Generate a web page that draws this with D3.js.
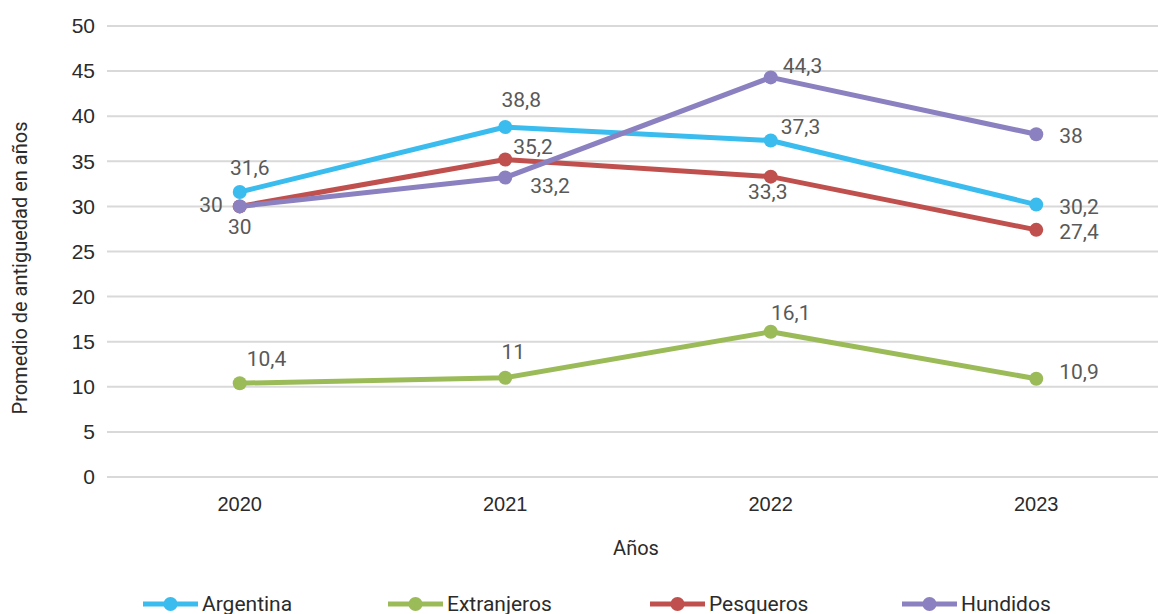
<!DOCTYPE html>
<html>
<head>
<meta charset="utf-8">
<script src="https://cdn.jsdelivr.net/npm/d3@7"></script>
<style>
  body { margin: 0; background: #fff; }
  svg { display: block; font-family: Roboto, "Noto Sans", sans-serif; }
</style>
</head>
<body>
<div id="chart"></div>
<script>
// data
var years = ['2020', '2021', '2022', '2023'];
var seriesNames = ['Argentina', 'Extranjeros', 'Pesqueros', 'Hundidos'];
var argentina = [31.6, 38.8, 37.3, 30.2];
var extranjeros = [10.4, 11, 16.1, 10.9];
var pesqueros = [30, 35.2, 33.3, 27.4];
var hundidos = [30, 33.2, 44.3, 38];
var yTicks = [0, 5, 10, 15, 20, 25, 30, 35, 40, 45, 50];

var colors = ['#3bbcee', '#9bbb59', '#c0504d', '#8b80c0'];

// label placement for each point: [dx, dy, anchor]
var labelOffsets = [
  [[10, -24, 'middle'], [16, -27, 'middle'], [10, -14, 'start'], [23, 2, 'start']],
  [[7, -25, 'start'], [8, -26, 'middle'], [20, -19, 'middle'], [23, -7, 'start']],
  [[-17, -2, 'end'], [8, -13, 'start'], [-3, 15, 'middle'], [23, 2, 'start']],
  [[0, 20, 'middle'], [25, 8, 'start'], [12, -12, 'start'], [23, 1, 'start']]
];

var allValues = [argentina, extranjeros, pesqueros, hundidos];
var series = seriesNames.map(function(n, i) {
  return { name: n, color: colors[i], values: allValues[i].map(function(v, j) {
    return { year: years[j], value: v, off: labelOffsets[i][j] };
  }) };
});

var W = 1158, H = 614;
var margin = {top: 26, right: -11, bottom: 137, left: 107};
var width = W - margin.left - margin.right,
    height = H - margin.top - margin.bottom;

var svg = d3.select('#chart').append('svg')
    .attr('width', W)
    .attr('height', H);

var g = svg.append('g')
    .attr('transform', 'translate(' + margin.left + ',' + margin.top + ')');

var x = d3.scaleBand().domain(years).range([0, width]);
var y = d3.scaleLinear().domain([0, 50]).range([height, 0]);

function cx(d) { return x(d.year) + x.bandwidth() / 2; }

// gridlines
g.selectAll('.grid')
    .data(yTicks)
    .enter().append('line')
    .attr('x1', 0)
    .attr('x2', W - margin.left)
    .attr('y1', function(d) { return y(d); })
    .attr('y2', function(d) { return y(d); })
    .attr('stroke', '#d9d9d9')
    .attr('stroke-width', 2);

// y axis labels
var yAxis = g.append('g')
    .call(d3.axisLeft(y).tickValues(yTicks).tickSize(0).tickPadding(12));
yAxis.select('.domain').remove();
yAxis.selectAll('text')
    .attr('font-size', '21px')
    .attr('fill', '#2b2b2b');

// x axis labels
var xAxis = g.append('g')
    .attr('transform', 'translate(0,' + height + ')')
    .call(d3.axisBottom(x).tickSize(0).tickPadding(20));
xAxis.select('.domain').remove();
xAxis.selectAll('text')
    .attr('font-size', '20px')
    .attr('fill', '#2b2b2b');

// axis titles
svg.append('text')
    .attr('transform', 'translate(27,268) rotate(-90)')
    .attr('text-anchor', 'middle')
    .attr('font-size', '20px')
    .attr('fill', '#2b2b2b')
    .text('Promedio de antiguedad en años');

svg.append('text')
    .attr('x', 636)
    .attr('y', 555)
    .attr('text-anchor', 'middle')
    .attr('font-size', '20px')
    .attr('fill', '#2b2b2b')
    .text('Años');

var line = d3.line()
    .x(cx)
    .y(function(d) { return y(d.value); });

var sg = g.selectAll('.series')
    .data(series)
    .enter().append('g');

sg.append('path')
    .attr('d', function(d) { return line(d.values); })
    .attr('fill', 'none')
    .attr('stroke', function(d) { return d.color; })
    .attr('stroke-width', 5)
    .attr('stroke-linejoin', 'round');

sg.selectAll('circle')
    .data(function(d) { return d.values.map(function(v) { v.color = d.color; return v; }); })
    .enter().append('circle')
    .attr('cx', cx)
    .attr('cy', function(d) { return y(d.value); })
    .attr('r', 7)
    .attr('fill', function(d) { return d.color; });

// data labels
sg.selectAll('.lbl')
    .data(function(d) { return d.values; })
    .enter().append('text')
    .attr('x', function(d) { return cx(d) + d.off[0]; })
    .attr('y', function(d) { return y(d.value) + d.off[1]; })
    .attr('dy', '0.35em')
    .attr('text-anchor', function(d) { return d.off[2]; })
    .attr('font-size', '21px')
    .attr('fill', '#595959')
    .text(function(d) { return String(d.value).replace('.', ','); });

// legend
var legendX = [143, 388, 650, 902];
var lg = svg.selectAll('.legend')
    .data(series)
    .enter().append('g')
    .attr('transform', function(d, i) { return 'translate(' + legendX[i] + ',604)'; });

lg.append('line')
    .attr('x1', 0).attr('x2', 55)
    .attr('stroke', function(d) { return d.color; })
    .attr('stroke-width', 5);
lg.append('circle')
    .attr('cx', 27.5).attr('r', 7)
    .attr('fill', function(d) { return d.color; });
lg.append('text')
    .attr('x', 59)
    .attr('dy', '0.35em')
    .attr('font-size', '21px')
    .attr('fill', '#2b2b2b')
    .text(function(d) { return d.name; });
</script>
</body>
</html>
